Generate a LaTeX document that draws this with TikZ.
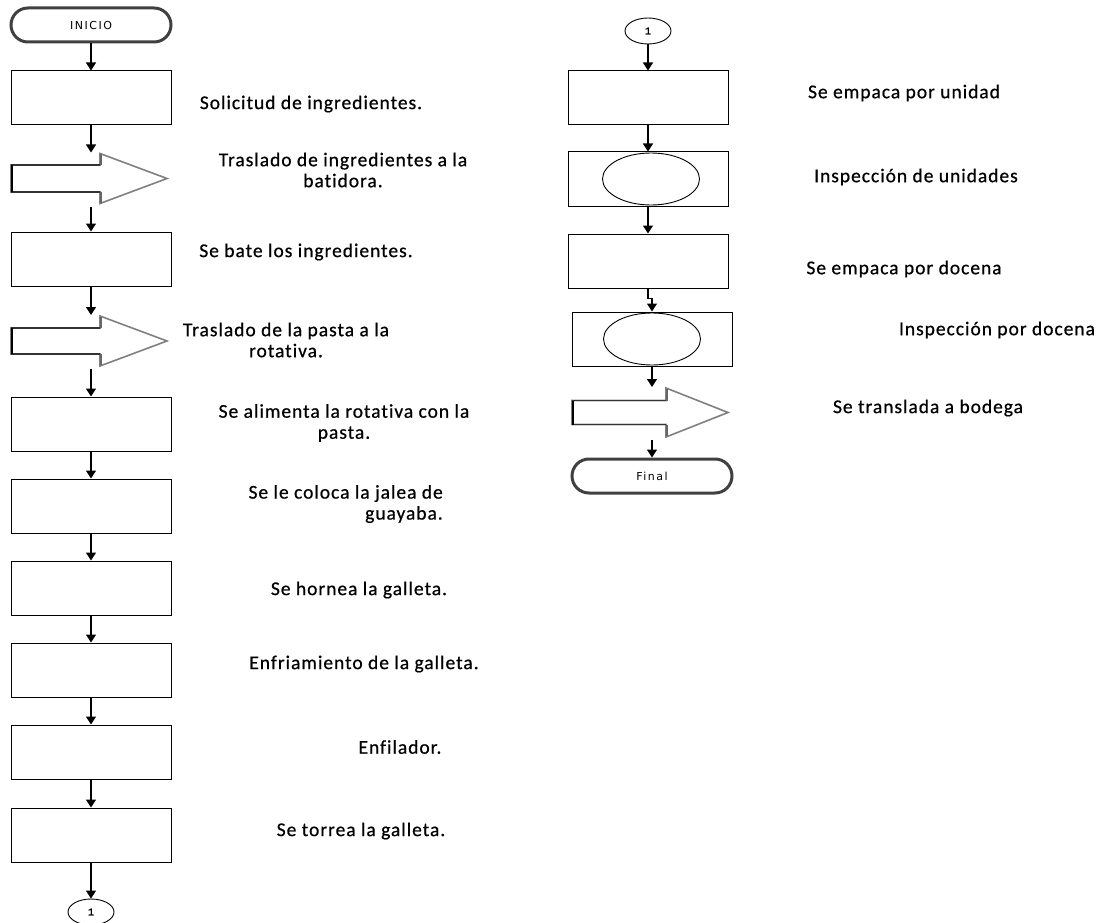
\documentclass[tikz,border=0pt]{standalone}
\usepackage{fontspec}
\setmainfont{Carlito}[Ligatures={NoCommon}]
\newfontfamily\termfont[LetterSpace=14]{DejaVu Sans}
\newfontfamily\monof{Liberation Mono}[FakeBold=1.5]
\usetikzlibrary{arrows.meta,shapes.geometric}
\newcommand\blockarr[8]{% #1 name, #2 xleft, #3 xbase, #4 xtip, #5 yc, #6 shaft half, #7 head half, #8 connector x
  \filldraw[fill=white,draw=black!50,line width=1.6pt,line join=miter]
    (#2,#5-#6) -- (#3,#5-#6) -- (#3,#5-#7) -- (#4,#5) -- (#3,#5+#7) -- (#3,#5+#6) -- (#2,#5+#6) -- cycle;
  \draw[black!80,line width=1.1pt] (#2,#5-#6) -- (#3,#5-#6) (#2,#5+#6) -- (#3,#5+#6);
  \draw[black!60,line width=2.2pt] (#3+1,#5-#7+1) -- (#3+1,#5-#6) (#3+1,#5+#7-1) -- (#3+1,#5+#6);
  \draw[black,line width=2.8pt] (#2+1,#5-#6) -- (#2+1,#5+#6);
  \coordinate (#1n) at (#8,#5-#7-1);
  \coordinate (#1s) at (#8,#5+#7+3);
}
\begin{document}
\begin{tikzpicture}[x=1pt,y=-1pt,
  box/.style={draw,line width=1pt,minimum width=160pt,minimum height=54pt,inner sep=0pt},
  term/.style={draw=black!75,line width=3pt,rounded corners=17pt,minimum width=160pt,minimum height=34pt,inner sep=0pt,font=\termfont\fontsize{11}{13}\selectfont},
  conn/.style={draw,ellipse,line width=0.9pt,minimum width=46pt,minimum height=26pt,inner sep=0pt,font=\monof\fontsize{10.5}{12}\selectfont},
  insp/.style={draw,ellipse,line width=0.9pt,minimum width=97pt,minimum height=52pt,inner sep=0pt},
  lbl/.style={font=\fontsize{19.5}{21}\selectfont\addfontfeature{LetterSpace=5,FakeBold=0.6},inner sep=0pt,align=center},
  arr/.style={-{Triangle[length=8pt,width=10pt]},line width=1.2pt}]
\useasboundingbox (0,0) rectangle (1114,923);

% ---------- left column ----------
\node[term] (inicio) at (91,25) {INICIO};
\node[box] (b1) at (91,98) {};
\blockarr{a1}{11}{100}{167}{178.5}{13.5}{25}{91}
\node[box] (b2) at (91,259) {};
\blockarr{a2}{11}{100}{167}{341}{13}{25}{91}
\node[box] (b3) at (91,424) {};
\node[box] (b4) at (91,506) {};
\node[box] (b5) at (91,588) {};
\node[box] (b6) at (91,670) {};
\node[box] (b7) at (91,752) {};
\node[box] (b8) at (91,835) {};
\node[conn] (c1) at (91,912) {1};

\draw[arr] (inicio.south) -- (b1.north);
\draw[arr] (b1.south) -- (a1n);
\draw[arr] (a1s) -- (b2.north);
\draw[arr] (b2.south) -- (a2n);
\draw[arr] (a2s) -- (b3.north);
\draw[arr] (b3.south) -- (b4.north);
\draw[arr] (b4.south) -- (b5.north);
\draw[arr] (b5.south) -- (b6.north);
\draw[arr] (b6.south) -- (b7.north);
\draw[arr] (b7.south) -- (b8.north);
\draw[arr] (b8.south) -- (c1.north);

\node[lbl] (t1) at (311,104) {Solicitud de ingredientes.};
\node[lbl] (t2) at (343,170) {Traslado de ingredientes a la\\batidora.};
\node[lbl] (t3) at (306,252) {Se bate los ingredientes.};
\node[lbl] (t4) at (286,340) {Traslado de la pasta a la\\rotativa.};
\node[lbl] (t5) at (344,423) {Se alimenta la rotativa con la\\pasta.};
\node[lbl,align=right,anchor=east] (t6) at (443,504) {Se le coloca la jalea de\\guayaba.};
\node[lbl] (t7) at (359,590) {Se hornea la galleta.};
\node[lbl] (t8) at (364,664) {Enfriamiento de la galleta.};
\node[lbl] (t9) at (400,747) {Enfilador.};
\node[lbl] (t10) at (361,831) {Se torrea la galleta.};

% ---------- right column ----------
\node[conn] (c2) at (648,31) {1};
\node[box] (r1) at (648,98) {};
\node[box] (r2) at (648,179) {};
\node[insp] (e1) at (651,179) {};
\node[box] (r3) at (648,261) {};
\node[box] (r4) at (652,339) {};
\node[insp] (e2) at (652,339) {};
\blockarr{a3}{572}{666}{728}{412.5}{12}{24.5}{652}
\node[term] (final) at (652,476) {Final};

\draw[arr] (c2.south) -- (r1.north);
\draw[arr] (r1.south) -- (r2.north);
\draw[arr] (r2.south) -- (r3.north);
\draw[arr] (r3.south) -- ++(0,10) -| (r4.north);
\draw[arr] (r4.south) -- (a3n);
\draw[arr] (a3s) -- (final.north);

\node[lbl] (u1) at (904,93) {Se empaca por unidad};
\node[lbl] (u2) at (916,177) {Inspección de unidades};
\node[lbl] (u3) at (904,269) {Se empaca por docena};
\node[lbl] (u4) at (997,330) {Inspección por docena};
\node[lbl] (u5) at (928,408) {Se translada a bodega};
\end{tikzpicture}
\end{document}
